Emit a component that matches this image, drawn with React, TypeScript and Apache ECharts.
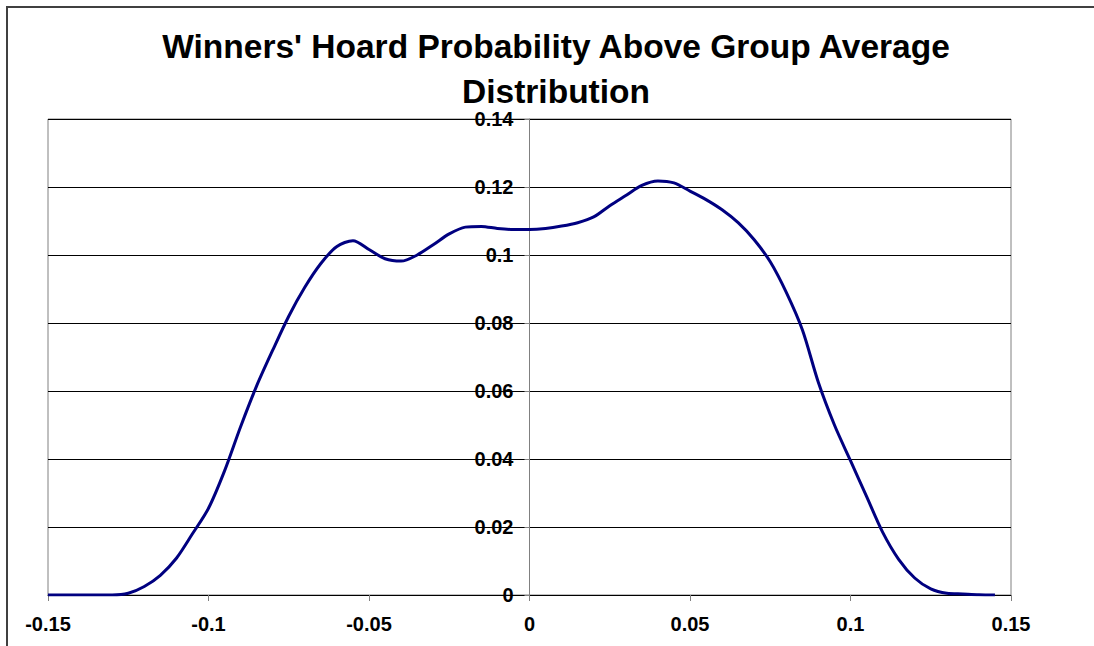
import React, { useEffect, useRef } from "react";
import * as echarts from "echarts";

const titleLines = ["Winners' Hoard Probability Above Group Average", "Distribution"];

const xValues = [
  -0.15, -0.14, -0.13, -0.125, -0.12, -0.115, -0.11, -0.105, -0.1, -0.095,
  -0.09, -0.085, -0.08, -0.075, -0.07, -0.065, -0.06, -0.055, -0.05, -0.045,
  -0.04, -0.035, -0.03, -0.025, -0.02, -0.015, -0.01, -0.005, 0, 0.005,
  0.01, 0.015, 0.02, 0.025, 0.03, 0.035, 0.04, 0.045, 0.05, 0.055,
  0.06, 0.065, 0.07, 0.075, 0.08, 0.085, 0.09, 0.095, 0.1, 0.105,
  0.11, 0.115, 0.12, 0.125, 0.13, 0.135, 0.14, 0.145,
];

const densityValues = [
  0, 0, 0, 0.0005, 0.0025, 0.0058, 0.0108, 0.018, 0.0255, 0.0365,
  0.0495, 0.0615, 0.072, 0.082, 0.0905, 0.0975, 0.1025, 0.1042, 0.1016, 0.0989,
  0.0982, 0.1, 0.103, 0.1062, 0.1082, 0.1084, 0.1078, 0.1075, 0.1075, 0.1078,
  0.1085, 0.1095, 0.1112, 0.1145, 0.1175, 0.1205, 0.1218, 0.1212, 0.1188, 0.1163,
  0.1133, 0.1095, 0.1045, 0.098, 0.089, 0.078, 0.0625, 0.05, 0.0395, 0.029,
  0.0185, 0.0105, 0.005, 0.0018, 0.0005, 0.0003, 0.0001, 0,
];

const FONT = "Arial, 'Liberation Sans', sans-serif";

export default function App() {
  const ref = useRef<HTMLDivElement>(null);

  useEffect(() => {
    if (!ref.current) return;
    const chart = echarts.init(ref.current, undefined, { renderer: "svg" });
    const data = xValues.map((x, i) => [x, densityValues[i]]);
    const titleStyle = {
      fontFamily: FONT,
      fontSize: 33.5,
      fontWeight: "bold",
      color: "#000000",
      lineHeight: 34,
    };
    chart.setOption({
      animation: false,
      backgroundColor: "#ffffff",
      title: [
        {
          text: titleLines[0],
          left: 556,
          top: 29,
          textAlign: "center",
          padding: 0,
          textStyle: titleStyle,
        },
        {
          text: titleLines[1],
          left: 556,
          top: 74,
          textAlign: "center",
          padding: 0,
          textStyle: titleStyle,
        },
      ],
      graphic: [
        {
          type: "rect",
          shape: { x: 7, y: 7, width: 1100, height: 700 },
          style: { fill: "none", stroke: "#404040", lineWidth: 2 },
          silent: true,
          z: 100,
        },
      ],
      grid: {
        left: 48,
        right: 83,
        top: 119,
        bottom: 51,
        show: true,
        borderColor: "#808080",
        borderWidth: 1,
        containLabel: false,
        outerBoundsMode: "none",
      },
      xAxis: {
        type: "value",
        min: -0.15,
        max: 0.15,
        interval: 0.05,
        axisLine: { show: true, onZero: false, lineStyle: { color: "#000000", width: 1 } },
        axisTick: { show: true, length: 6, lineStyle: { color: "#808080" } },
        axisLabel: {
          margin: 19,
          fontFamily: FONT,
          fontSize: 20,
          fontWeight: "bold",
          color: "#000000",
        },
        splitLine: { show: false },
      },
      yAxis: {
        type: "value",
        min: 0,
        max: 0.14,
        interval: 0.02,
        position: "left",
        offset: -481.5,
        axisLine: { show: true, onZero: false, lineStyle: { color: "#808080", width: 1 } },
        axisTick: { show: true, length: 5, lineStyle: { color: "#808080" } },
        axisLabel: {
          margin: 16,
          fontFamily: FONT,
          fontSize: 20,
          fontWeight: "bold",
          color: "#000000",
        },
        splitLine: { show: true, lineStyle: { color: "#000000", width: 1 } },
      },
      series: [
        {
          type: "line",
          data,
          smooth: 0.3,
          showSymbol: false,
          symbol: "none",
          lineStyle: { color: "#000080", width: 3 },
          z: 5,
        },
      ],
    });
    return () => chart.dispose();
  }, []);

  return (
    <div
      ref={ref}
      style={{ position: "absolute", left: 0, top: 0, width: 1094, height: 646 }}
    />
  );
}
